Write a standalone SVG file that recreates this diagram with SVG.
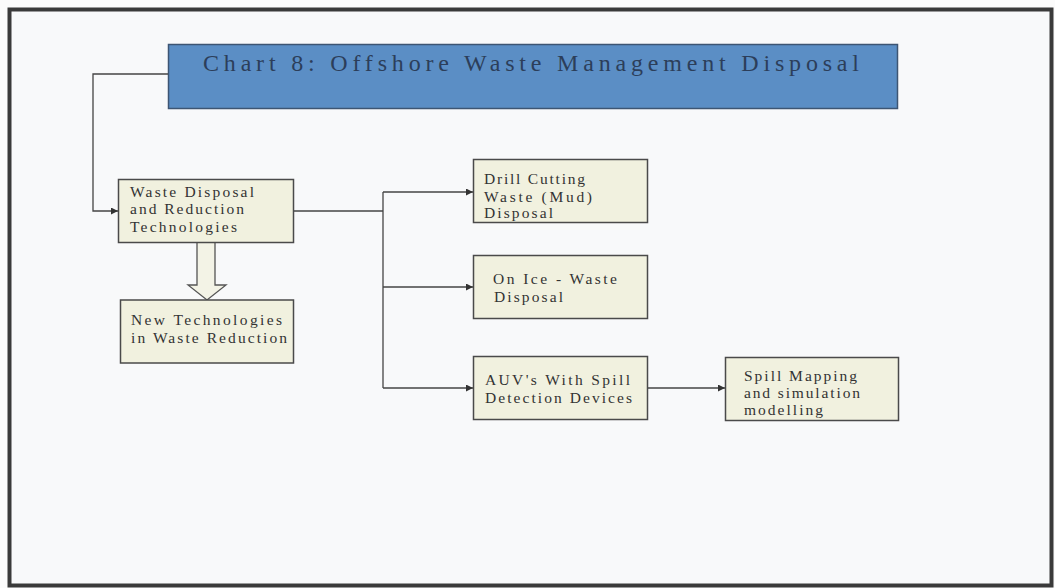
<svg xmlns="http://www.w3.org/2000/svg" width="1055" height="588" viewBox="0 0 1055 588">
  <defs>
    <marker id="arrow" viewBox="0 0 10 10" refX="10" refY="5" markerWidth="9" markerHeight="7" markerUnits="userSpaceOnUse" orient="auto">
      <path d="M0,0 L10,5 L0,10 z" fill="#333"/>
    </marker>
    <style>
      .box { fill: #f1f1df; stroke: #4a4a4a; stroke-width: 1.5; }
      .lbl { font-family: "Liberation Serif", "Times New Roman", serif; font-size: 15.5px; fill: #333; }
      .title { font-family: "Liberation Serif", "Times New Roman", serif; font-size: 24px; fill: #2c3e5a; }
      .wire { fill: none; stroke: #444; stroke-width: 1.3; }
    </style>
  </defs>

  <!-- page -->
  <rect x="0" y="0" width="1055" height="588" fill="#fbfbfb"/>
  <rect x="9.5" y="9.5" width="1042" height="576" fill="#f8f9fa" stroke="#3a3a3a" stroke-width="4"/>

  <!-- title banner -->
  <g id="title">
    <rect x="168.5" y="44.5" width="729" height="64" fill="#5b8ec5" stroke="#3d5573" stroke-width="1.5"/>
    <text class="title" x="203" y="71" textLength="656" lengthAdjust="spacing">Chart 8: Offshore Waste Management Disposal</text>
  </g>

  <!-- connectors -->
  <g id="connectors">
    <path class="wire" d="M168,74 H93 V211 H118" marker-end="url(#arrow)"/>
    <path class="wire" d="M293,211 H383"/>
    <path class="wire" d="M383,192 V388"/>
    <path class="wire" d="M383,192 H473" marker-end="url(#arrow)"/>
    <path class="wire" d="M383,287 H473" marker-end="url(#arrow)"/>
    <path class="wire" d="M383,388 H473" marker-end="url(#arrow)"/>
    <path class="wire" d="M648,388 H725" marker-end="url(#arrow)"/>
    <!-- hollow block arrow between the two left boxes -->
    <path d="M197,242 V285 H188 L207,300 L226,285 H215 V242" fill="#f3f3e6" stroke="#555" stroke-width="1.3"/>
  </g>

  <g id="waste-disposal">
    <rect class="box" x="118.5" y="179.5" width="175" height="63"/>
    <text class="lbl" x="130" y="197" textLength="124" lengthAdjust="spacing">Waste Disposal</text>
    <text class="lbl" x="130" y="214" textLength="114" lengthAdjust="spacing">and Reduction</text>
    <text class="lbl" x="130" y="232" textLength="107" lengthAdjust="spacing">Technologies</text>
  </g>

  <g id="new-technologies">
    <rect class="box" x="120.5" y="300" width="173" height="63"/>
    <text class="lbl" x="131" y="325" textLength="151" lengthAdjust="spacing">New Technologies</text>
    <text class="lbl" x="131" y="343" textLength="156" lengthAdjust="spacing">in Waste Reduction</text>
  </g>

  <g id="drill-cutting">
    <rect class="box" x="473.5" y="159.5" width="174" height="63"/>
    <text class="lbl" x="484" y="184" textLength="101" lengthAdjust="spacing">Drill Cutting</text>
    <text class="lbl" x="484" y="202" textLength="108" lengthAdjust="spacing">Waste (Mud)</text>
    <text class="lbl" x="484" y="218" textLength="69" lengthAdjust="spacing">Disposal</text>
  </g>

  <g id="on-ice">
    <rect class="box" x="473.5" y="255.5" width="174" height="63"/>
    <text class="lbl" x="493" y="284" textLength="124" lengthAdjust="spacing">On Ice - Waste</text>
    <text class="lbl" x="494" y="302" textLength="69" lengthAdjust="spacing">Disposal</text>
  </g>

  <g id="auv">
    <rect class="box" x="473.5" y="356.5" width="174" height="63"/>
    <text class="lbl" x="485" y="385" textLength="145" lengthAdjust="spacing">AUV's With Spill</text>
    <text class="lbl" x="485" y="403" textLength="147" lengthAdjust="spacing">Detection Devices</text>
  </g>

  <g id="spill-mapping">
    <rect class="box" x="725.5" y="357.5" width="173" height="63"/>
    <text class="lbl" x="744" y="381" textLength="113" lengthAdjust="spacing">Spill Mapping</text>
    <text class="lbl" x="744" y="398" textLength="116" lengthAdjust="spacing">and simulation</text>
    <text class="lbl" x="744" y="415" textLength="79" lengthAdjust="spacing">modelling</text>
  </g>
</svg>
